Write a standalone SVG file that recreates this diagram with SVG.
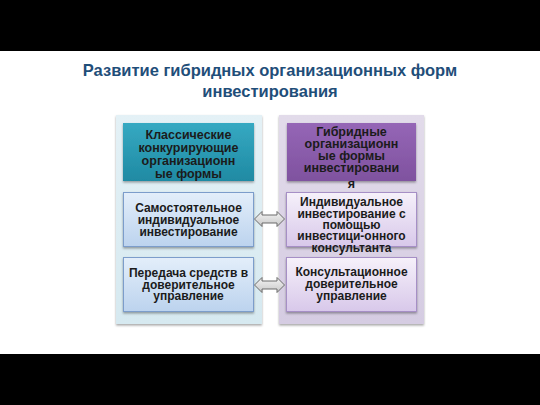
<svg xmlns="http://www.w3.org/2000/svg" width="540" height="405" viewBox="0 0 540 405">
<defs>
<linearGradient id="gPanelL" x1="0" y1="0" x2="0" y2="1"><stop offset="0" stop-color="#e4f1f6"/><stop offset="1" stop-color="#d6e9f0"/></linearGradient>
<linearGradient id="gPanelR" x1="0" y1="0" x2="0" y2="1"><stop offset="0" stop-color="#e2dbea"/><stop offset="1" stop-color="#d5cce2"/></linearGradient>
<linearGradient id="gHeadL" x1="0" y1="0" x2="0" y2="1"><stop offset="0" stop-color="#36a9c2"/><stop offset="1" stop-color="#1f8aa3"/></linearGradient>
<linearGradient id="gHeadR" x1="0" y1="0" x2="0" y2="1"><stop offset="0" stop-color="#9566b6"/><stop offset="1" stop-color="#7f529f"/></linearGradient>
<linearGradient id="gBoxL" x1="0" y1="0" x2="0" y2="1"><stop offset="0" stop-color="#e3eefa"/><stop offset="1" stop-color="#bcd3ee"/></linearGradient>
<linearGradient id="gBoxR" x1="0" y1="0" x2="0" y2="1"><stop offset="0" stop-color="#f6f1fa"/><stop offset="1" stop-color="#d8c8ea"/></linearGradient>
<linearGradient id="gArrow" x1="0" y1="0" x2="0" y2="1"><stop offset="0" stop-color="#f4f4f4"/><stop offset="1" stop-color="#c8c8c8"/></linearGradient>
<filter id="sh" x="-10%" y="-10%" width="120%" height="130%"><feDropShadow dx="0" dy="1.5" stdDeviation="1" flood-color="#000" flood-opacity="0.35"/></filter>
</defs>
<style>
.t{font-family:"Liberation Sans",Arial,sans-serif;font-weight:bold;fill:#1b1b1b;text-anchor:middle}
.b{font-size:12px}
.h{font-size:12.5px}
.title{font-family:"Liberation Sans",Arial,sans-serif;font-weight:bold;font-size:16.5px;fill:#1f4e79;text-anchor:middle}
.bl{fill:url(#gBoxL);stroke:#7c9dcb;stroke-width:1}
.br{fill:url(#gBoxR);stroke:#a68fc6;stroke-width:1}
.arr{fill:url(#gArrow);stroke:#6b6b6b;stroke-width:1}
</style>
<rect x="0" y="0" width="540" height="405" fill="#ffffff"/>
<rect x="0" y="0" width="540" height="51" fill="#000000"/>
<rect x="0" y="354" width="540" height="51" fill="#000000"/>
<g id="title">
<text class="title" x="270" y="76">Развитие гибридных организационных форм</text>
<text class="title" x="270" y="97">инвестирования</text>
</g>
<g id="panelL"><rect x="116" y="115" width="146" height="209" fill="url(#gPanelL)" filter="url(#sh)"/></g>
<g id="panelR"><rect x="279" y="115" width="145" height="209" fill="url(#gPanelR)" filter="url(#sh)"/></g>
<g id="headL">
<rect x="123" y="123" width="131" height="58" fill="url(#gHeadL)" filter="url(#sh)"/>
<text class="t h" x="188.5" y="139">Классические</text>
<text class="t h" x="188.5" y="152">конкурирующие</text>
<text class="t h" x="188.5" y="165">организационн</text>
<text class="t h" x="188.5" y="178">ые формы</text>
</g>
<g id="headR">
<rect x="287" y="123" width="129" height="58" fill="url(#gHeadR)" filter="url(#sh)"/>
<text class="t h" x="351.5" y="136">Гибридные</text>
<text class="t h" x="351.5" y="148">организационн</text>
<text class="t h" x="351.5" y="160">ые формы</text>
<text class="t h" x="351.5" y="172">инвестировани</text>
<text class="t h" x="351.5" y="188">я</text>
</g>
<g id="boxL1">
<rect class="bl" x="123.5" y="192.5" width="130" height="54" filter="url(#sh)"/>
<text class="t b" x="188.5" y="212">Самостоятельное</text>
<text class="t b" x="188.5" y="224">индивидуальное</text>
<text class="t b" x="188.5" y="236">инвестирование</text>
</g>
<g id="boxR1">
<rect class="br" x="286.5" y="192.5" width="130" height="54" filter="url(#sh)"/>
<text class="t b" x="351.5" y="206">Индивидуальное</text>
<text class="t b" x="351.5" y="217.5">инвестирование с</text>
<text class="t b" x="351.5" y="229">помощью</text>
<text class="t b" x="351.5" y="240">инвестици-онного</text>
<text class="t b" x="351.5" y="252">консультанта</text>
</g>
<g id="boxL2">
<rect class="bl" x="123.5" y="257.5" width="130" height="54" filter="url(#sh)"/>
<text class="t b" x="188.5" y="277">Передача средств в</text>
<text class="t b" x="188.5" y="288.5">доверительное</text>
<text class="t b" x="188.5" y="300">управление</text>
</g>
<g id="boxR2">
<rect class="br" x="286.5" y="257.5" width="130" height="54" filter="url(#sh)"/>
<text class="t b" x="351.5" y="276">Консультационное</text>
<text class="t b" x="351.5" y="288">доверительное</text>
<text class="t b" x="351.5" y="300">управление</text>
</g>
<g id="connectors">
<path class="arr" d="M254.5,219 L262,211.5 L262,215 L277,215 L277,211.5 L284.5,219 L277,226.5 L277,223 L262,223 L262,226.5 Z"/>
<path class="arr" d="M254.5,285 L262,277.5 L262,281 L277,281 L277,277.5 L284.5,285 L277,292.5 L277,289 L262,289 L262,292.5 Z"/>
</g>
</svg>
